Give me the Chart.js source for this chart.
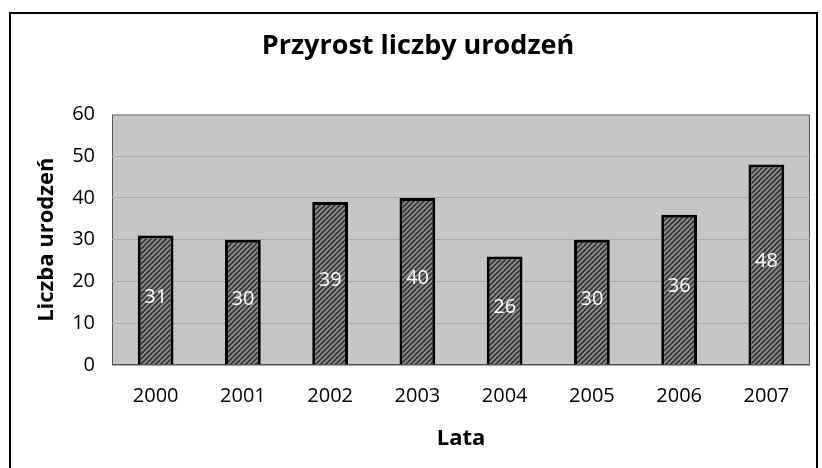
<!DOCTYPE html>
<html>
<head>
    <meta charset="UTF-8">
    <title>Przyrost liczby urodzeń</title>
    <script src="https://cdn.jsdelivr.net/npm/chart.js@4/dist/chart.umd.min.js"></script>
    <style>
        body { margin: 0; background: #fff; overflow: hidden; }
        #frame {
            position: absolute; left: 9px; top: 12px; width: 809px; height: 470px;
            border: 2px solid #000; box-sizing: border-box;
        }
        #chart { position: absolute; left: 0; top: 0; }
    </style>
</head>
<body>
<div id="frame"></div>
<canvas id="chart" width="822" height="468"></canvas>
<script>
    // Chart data
    var years = ['2000', '2001', '2002', '2003', '2004', '2005', '2006', '2007'];
    var births = [31, 30, 39, 40, 26, 30, 36, 48];
    var yTicks = [0, 10, 20, 30, 40, 50, 60];

    var font = "'Open Sans', 'DejaVu Sans', sans-serif";

    // diagonal hatch fill for the bars
    function hatch() {
        var p = document.createElement('canvas');
        p.width = 5; p.height = 5;
        var g = p.getContext('2d');
        g.fillStyle = '#909090';
        g.fillRect(0, 0, 5, 5);
        g.strokeStyle = '#303030';
        g.lineWidth = 1.6;
        g.beginPath();
        g.moveTo(-1, 6); g.lineTo(6, -1);
        g.moveTo(-1, 1); g.lineTo(1, -1);
        g.moveTo(4, 6); g.lineTo(6, 4);
        g.stroke();
        return g.createPattern(p, 'repeat');
    }

    // gray plot background with a thin border
    var plotBg = {
        id: 'plotBg',
        beforeDraw: function (chart) {
            var a = chart.chartArea, c = chart.ctx;
            c.save();
            c.fillStyle = '#c6c6c6';
            c.fillRect(a.left, a.top, a.right - a.left, a.bottom - a.top);
            c.strokeStyle = '#555';
            c.lineWidth = 1;
            c.strokeRect(a.left + 0.5, a.top + 0.5, a.right - a.left - 1, a.bottom - a.top - 1);
            c.restore();
        }
    };

    // white value labels in the middle of each bar
    var barLabels = {
        id: 'barLabels',
        afterDatasetsDraw: function (chart) {
            var c = chart.ctx;
            var meta = chart.getDatasetMeta(0);
            c.save();
            c.fillStyle = '#fff';
            c.font = '20px ' + font;
            c.textAlign = 'center';
            c.textBaseline = 'middle';
            meta.data.forEach(function (bar, i) {
                c.fillText(births[i], bar.x, (bar.y + bar.base) / 2 - 3);
            });
            c.restore();
        }
    };

    new Chart(document.getElementById('chart').getContext('2d'), {
        type: 'bar',
        data: {
            labels: years,
            datasets: [{
                label: 'Liczba urodzeń',
                data: births,
                backgroundColor: hatch(),
                borderColor: '#000',
                borderWidth: 3,
                categoryPercentage: 1,
                barPercentage: 0.41
            }]
        },
        options: {
            responsive: false,
            animation: false,
            layout: { padding: { left: 26, right: 12, top: 10, bottom: 10 } },
            plugins: {
                legend: { display: false },
                tooltip: { enabled: false },
                title: {
                    display: true,
                    text: 'Przyrost liczby urodzeń',
                    color: '#000',
                    font: { family: font, size: 27, weight: 'bold' },
                    padding: { top: 20, bottom: 52 }
                }
            },
            scales: {
                x: {
                    afterFit: function (axis) { axis.height = 93; },
                    grid: { display: false, drawTicks: false },
                    border: { display: false },
                    ticks: { color: '#000', font: { family: font, size: 20 }, padding: 19 },
                    title: {
                        display: true, text: 'Lata', color: '#000',
                        font: { family: font, size: 22, weight: 'bold' },
                        padding: { top: 0, bottom: 6 }
                    }
                },
                y: {
                    min: 0, max: 60,
                    afterFit: function (axis) { axis.width = 86; },
                    afterBuildTicks: function (axis) {
                        axis.ticks = yTicks.map(function (v) { return { value: v }; });
                    },
                    grid: { color: '#a8a8a8', drawTicks: false },
                    border: { display: false },
                    ticks: { color: '#000', font: { family: font, size: 20 }, padding: 17 },
                    title: {
                        display: true, text: 'Liczba urodzeń', color: '#000',
                        font: { family: font, size: 22, weight: 'bold' },
                        padding: { top: 8, bottom: 0 }
                    }
                }
            }
        },
        plugins: [plotBg, barLabels]
    });
</script>
</body>
</html>
